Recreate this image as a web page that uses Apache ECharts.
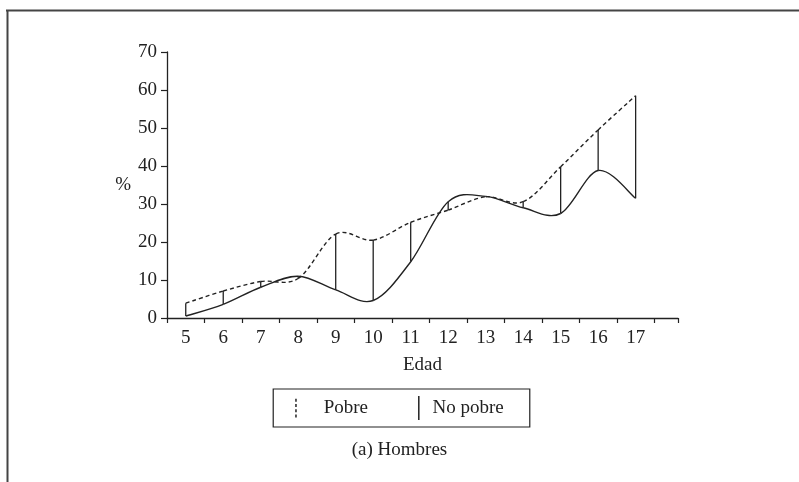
<!DOCTYPE html>
<html>
<head>
<meta charset="utf-8">
<script src="https://cdn.jsdelivr.net/npm/echarts@6/dist/echarts.min.js"></script>
<style>
  html, body { margin: 0; padding: 0; background: #fff; }
  #chart { width: 799px; height: 482px; }
</style>
</head>
<body>
<div id="chart"></div>
<script>
// datos (a) Hombres
const edades = [5, 6, 7, 8, 9, 10, 11, 12, 13, 14, 15, 16, 17];
const pobre = [3.9, 7.1, 9.6, 10.4, 22.1, 20.5, 25.2, 28.4, 31.9, 30.6, 39.8, 49.5, 58.5];
const noPobre = [0.5, 3.6, 8.1, 11.0, 7.4, 4.6, 14.8, 30.6, 32.0, 29.0, 27.5, 38.8, 31.5];
const yTicks = [0, 10, 20, 30, 40, 50, 60, 70];

const serif = 'Liberation Serif';
const ink = '#222';
const fs = 19;

const chart = echarts.init(document.getElementById('chart'));

const pobreData = edades.map((e, i) => [e, pobre[i]]);
const noPobreData = edades.map((e, i) => [e, noPobre[i]]);
const diffData = edades.map((e, i) => [e, pobre[i], noPobre[i]]);

// cada dato dibuja el tramo hasta el siguiente (curva tipo Catmull-Rom)
function curva(valores, dash) {
  return (params, api) => {
    const i = params.dataIndex;
    if (i >= edades.length - 1) return null;
    const pt = k => {
      const j = Math.max(0, Math.min(edades.length - 1, k));
      return api.coord([edades[j], valores[j]]);
    };
    const p0 = pt(i - 1), p1 = pt(i), p2 = pt(i + 1), p3 = pt(i + 2);
    return {
      type: 'bezierCurve',
      shape: {
        x1: p1[0], y1: p1[1], x2: p2[0], y2: p2[1],
        cpx1: p1[0] + (p2[0] - p0[0]) / 6, cpy1: p1[1] + (p2[1] - p0[1]) / 6,
        cpx2: p2[0] - (p3[0] - p1[0]) / 6, cpy2: p2[1] - (p3[1] - p1[1]) / 6
      },
      style: {stroke: ink, lineWidth: 1.4, fill: null, lineDash: dash}
    };
  };
}

const xMin = 4.5, xMax = 18.13;

chart.setOption({
  animation: false,
  grid: {left: 167, right: 121, top: 52, bottom: 164},
  title: {
    text: '(a) Hombres',
    left: 'center',
    top: 436,
    textStyle: {fontFamily: serif, fontSize: fs, fontWeight: 'normal', color: ink}
  },
  legend: {
    data: [
      {name: 'Pobre', icon: 'path://M0,0h2v4h-2z M0,7h2v4h-2z M0,14h2v4h-2z M0,21h2v4h-2z'},
      {name: 'No pobre', icon: 'rect'}
    ],
    left: 'center',
    top: 389,
    orient: 'horizontal',
    itemWidth: 1.5,
    itemHeight: 24,
    itemGap: 50,
    padding: [7, 26, 7, 22],
    borderColor: ink,
    borderWidth: 1.2,
    itemStyle: {color: ink, borderWidth: 0},
    textStyle: {fontFamily: serif, fontSize: fs, color: ink,
      rich: {
        p: {fontFamily: serif, fontSize: fs, color: ink, padding: [0, 0, 0, 22]},
        n: {fontFamily: serif, fontSize: fs, color: ink, padding: [0, 0, 0, 8]}
      }
    },
    formatter: name => name === 'Pobre' ? '{p|Pobre}' : '{n|No pobre}'
  },
  xAxis: [
    {
      type: 'value', min: xMin, max: xMax, show: false
    },
    {
      type: 'value', min: 0, max: xMax - xMin, interval: 1, position: 'bottom',
      axisLine: {show: true, lineStyle: {color: ink, width: 1.3}},
      axisTick: {show: true, length: 5, lineStyle: {color: ink, width: 1.2}},
      axisLabel: {show: false},
      splitLine: {show: false},
      name: 'Edad', nameLocation: 'middle', nameGap: 38,
      nameTextStyle: {fontFamily: serif, fontSize: fs, color: ink, verticalAlign: 'top'}
    },
    {
      type: 'value', min: 2 * xMin, max: 2 * xMax, interval: 1, position: 'bottom',
      axisLine: {show: false},
      axisTick: {show: false},
      splitLine: {show: false},
      axisLabel: {
        margin: 11,
        fontFamily: serif, fontSize: fs, color: ink,
        formatter: v => {
          const r = Math.round(v);
          if (Math.abs(v - r) > 1e-6 || r % 2 !== 0) return '';
          const edad = r / 2;
          return edades.includes(edad) ? String(edad) : '';
        }
      }
    }
  ],
  yAxis: {
    type: 'value', min: yTicks[0], max: yTicks[yTicks.length - 1], interval: 10,
    axisLine: {show: true, lineStyle: {color: ink, width: 1.3}},
    axisTick: {show: true, length: 6, lineStyle: {color: ink, width: 1.2}},
    splitLine: {show: false},
    axisLabel: {margin: 10, fontFamily: serif, fontSize: fs, color: ink},
    name: '%', nameLocation: 'middle', nameRotate: 0, nameGap: 36,
    nameTextStyle: {fontFamily: serif, fontSize: fs, color: ink, padding: [0, 0, 6, 0]}
  },
  graphic: [
    {type: 'line', shape: {x1: 6, y1: 10.5, x2: 799, y2: 10.5}, style: {stroke: '#444', lineWidth: 2}},
    {type: 'line', shape: {x1: 7.5, y1: 10, x2: 7.5, y2: 482}, style: {stroke: '#444', lineWidth: 2}}
  ],
  series: [
    {
      name: 'Pobre', type: 'custom', xAxisIndex: 0, data: pobreData,
      itemStyle: {color: ink},
      renderItem: curva(pobre, [4, 3])
    },
    {
      name: 'No pobre', type: 'custom', xAxisIndex: 0, data: noPobreData,
      itemStyle: {color: ink},
      renderItem: curva(noPobre, null)
    },
    {
      name: 'diferencia', type: 'custom', xAxisIndex: 0, data: diffData,
      renderItem: (params, api) => {
        const a = api.coord([api.value(0), api.value(1)]);
        const b = api.coord([api.value(0), api.value(2)]);
        return {
          type: 'line',
          shape: {x1: a[0], y1: a[1], x2: b[0], y2: b[1]},
          style: {stroke: ink, lineWidth: 1.3}
        };
      }
    }
  ]
});
</script>
</body>
</html>
